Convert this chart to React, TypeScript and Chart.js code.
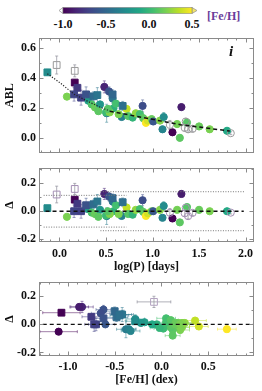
import React, { useEffect, useRef } from "react";
import { Chart, registerables } from "chart.js";
Chart.register(...registerables);

// ---------------- data ----------------
const logP = [
  -0.13, -0.03, 0.08, 0.164, 0.164, 0.193, 0.157, 0.232, 0.286, 0.364,
  0.407, 0.31, 0.346, 0.382, 0.436, 0.418, 0.482, 0.507, 0.532, 0.571,
  0.571, 0.58, 0.607, 0.5, 0.54, 0.52, 0.679, 0.668, 0.721, 0.636,
  0.739, 0.786, 0.82, 0.893, 0.864, 0.9, 0.929, 0.95, 0.99, 1.007,
  1.08, 1.12, 1.107, 1.186, 1.214, 1.31, 1.293, 1.264, 1.37, 1.357,
  1.346, 1.382, 1.43, 1.5, 1.614, 1.8, 1.84,
];
const abl = [
  0.437, 0.486, 0.275, 0.447, 0.369, 0.334, 0.29, 0.268, 0.29, 0.277,
  0.285, 0.248, 0.223, 0.203, 0.223, 0.178, 0.34, 0.164, 0.31, 0.29,
  0.262, 0.197, 0.228, 0.17, 0.17, 0.193, 0.213, 0.139, 0.193, 0.158,
  0.145, 0.135, 0.164, 0.213, 0.158, 0.131, 0.1, 0.115, 0.125, 0.109,
  0.115, 0.139, 0.057, 0.086, 0.037, 0.205, 0.0, 0.092, 0.102, 0.109,
  0.066, 0.057, 0.06, 0.076, 0.057, 0.047, 0.031,
];
const ablErr = [
  0.02, 0.06, 0.02, 0.04, 0.02, 0.02, 0.045, 0.05, 0.05, 0.03,
  0.05, 0.02, 0.02, 0.02, 0.02, 0.02, 0.04, 0.06, 0.03, 0.03,
  0.03, 0.02, 0.02, 0.02, 0.02, 0.02, 0.03, 0.02, 0.02, 0.02,
  0.02, 0.02, 0.02, 0.04, 0.02, 0.02, 0.02, 0.02, 0.02, 0.02,
  0.02, 0.03, 0.02, 0.03, 0.02, 0.02, 0.02, 0.02, 0.02, 0.02,
  0.02, 0.02, 0.02, 0.02, 0.02, 0.02, 0.01,
];
const delta = [
  0.022, 0.12, -0.04, 0.16, 0.083, 0.054, 0.0, 0.0, 0.043, 0.05,
  0.07, 0.015, -0.01, -0.02, 0.01, -0.04, 0.124, -0.035, 0.105, 0.094,
  0.07, 0.0, 0.043, -0.03, -0.02, 0.0, 0.065, -0.034, 0.027, -0.02,
  -0.02, -0.025, 0.01, 0.079, 0.015, -0.005, -0.034, -0.015, 0.0, 0.0,
  0.01, 0.038, -0.047, -0.011, -0.052, 0.124, -0.08, 0.01, 0.03, 0.025,
  -0.015, -0.035, -0.012, 0.01, 0.0, 0.0, -0.01,
];
const feh: (number | null)[] = [
  -0.28, null, 0.2, -0.08, -1.07, -0.75, -0.7, -0.72, -0.62, -0.48,
  -0.42, -0.18, 0.08, 0.15, -0.22, 0.12, -0.85, -0.38, -0.62, -0.5,
  -0.42, -0.05, 0.05, 0.02, 0.22, 0.1, -0.45, -0.35, 0.36, 0.2,
  0.1, -0.02, 0.25, -0.65, 0.05, 0.12, 0.7, 0.4, 0.15, -0.6,
  0.22, -0.28, -0.33, null, -1.1, -0.88, 0.12, 0.18, 0.1, null,
  null, null, null, 0.15, 0.2, -0.1, null,
];
const fehErr = [
  0.1, 0, 0.1, 0.18, 0.2, 0.1, 0.08, 0.1, 0.1, 0.12,
  0.1, 0.1, 0.08, 0.08, 0.1, 0.08, 0.12, 0.1, 0.08, 0.1,
  0.12, 0.08, 0.1, 0.1, 0.08, 0.08, 0.1, 0.08, 0.12, 0.1,
  0.08, 0.1, 0.1, 0.1, 0.08, 0.1, 0.1, 0.1, 0.08, 0.1,
  0.1, 0.1, 0.1, 0, 0.2, 0.1, 0.08, 0.1, 0.08, 0,
  0, 0, 0, 0.1, 0.1, 0.1, 0,
];
// c = filled circle, s = filled square, oc = open circle, os = open square
const kind = [
  "s", "os", "c", "os", "s", "s", "s", "s", "s", "s",
  "s", "c", "c", "c", "c", "c", "c", "c", "c", "s",
  "c", "c", "c", "c", "c", "c", "s", "c", "c", "c",
  "c", "c", "c", "c", "c", "c", "c", "c", "c", "c",
  "c", "c", "c", "oc", "c", "c", "c", "c", "c", "oc",
  "oc", "oc", "oc", "c", "c", "c", "oc",
];

// fit lines (top panel)
const fitShortX = [-0.13, 0.0, 0.16, 0.3, 0.44, 0.54];
const fitShortY = [0.428, 0.37, 0.29, 0.245, 0.203, 0.18];
const fitLongX = [0.54, 0.94, 1.3, 1.83];
const fitLongY = [0.178, 0.13, 0.088, 0.045];
// residual reference lines
const zeroLineP = [-0.15, 1.98];
const scatterShortX = [-0.17, 0.72];
const scatterShortY = 0.114;
const scatterLongX = [0.44, 1.99];
const scatterLongY = 0.14;
const zeroLineFe = [-1.27, 0.99];

// ticks
const logPTicks = [0.0, 0.5, 1.0, 1.5, 2.0];
const ablTicks = [0.0, 0.2, 0.4, 0.6];
const deltaTicks = [-0.2, 0.0, 0.2];
const fehTicks = [-1.0, -0.5, 0.0, 0.5];
const cbarTicks = [-1.0, -0.5, 0.0, 0.5];

// ---------------- styling helpers ----------------
const VIRIDIS = ["#440154", "#482475", "#414487", "#355f8d", "#2a788e", "#21918c", "#22a884", "#44bf70", "#7ad151", "#bddf26", "#fde725"];
const FONT = "'Liberation Serif', 'DejaVu Serif', serif";

function hexRgb(h: string) {
  return [parseInt(h.slice(1, 3), 16), parseInt(h.slice(3, 5), 16), parseInt(h.slice(5, 7), 16)];
}
function viridisRgb(v: number) {
  const t = Math.max(0, Math.min(1, (v + 1) / 1.5));
  const s = t * 10;
  const i = Math.min(9, Math.floor(s));
  const f = s - i;
  const a = hexRgb(VIRIDIS[i]);
  const b = hexRgb(VIRIDIS[i + 1]);
  return a.map((c, k) => Math.round(c + (b[k] - c) * f));
}
function col(v: number, alpha = 1) {
  const [r, g, b] = viridisRgb(v);
  return `rgba(${r},${g},${b},${alpha})`;
}

const errorBarPlugin = {
  id: "errbars",
  beforeDatasetsDraw(chart: any) {
    const { ctx, chartArea: a } = chart;
    const xs = chart.scales.x;
    const ys = chart.scales.y;
    ctx.save();
    ctx.beginPath();
    ctx.rect(a.left, a.top, a.right - a.left, a.bottom - a.top);
    ctx.clip();
    ctx.lineWidth = 1;
    chart.data.datasets.forEach((ds: any) => {
      if (!ds.errY) return;
      ds.data.forEach((p: any, i: number) => {
        const px = xs.getPixelForValue(p.x);
        const py = ys.getPixelForValue(p.y);
        ctx.strokeStyle = ds.errColor[i];
        ctx.beginPath();
        const ey = ds.errY[i];
        if (ey > 0) {
          const y1 = ys.getPixelForValue(p.y - ey);
          const y2 = ys.getPixelForValue(p.y + ey);
          ctx.moveTo(px, y1); ctx.lineTo(px, y2);
          ctx.moveTo(px - 1.5, y1); ctx.lineTo(px + 1.5, y1);
          ctx.moveTo(px - 1.5, y2); ctx.lineTo(px + 1.5, y2);
        }
        if (ds.errX) {
          const ex = ds.errX[i];
          if (ex > 0) {
            const x1 = xs.getPixelForValue(p.x - ex);
            const x2 = xs.getPixelForValue(p.x + ex);
            ctx.moveTo(x1, py); ctx.lineTo(x2, py);
            ctx.moveTo(x1, py - 1.5); ctx.lineTo(x1, py + 1.5);
            ctx.moveTo(x2, py - 1.5); ctx.lineTo(x2, py + 1.5);
          }
        }
        ctx.stroke();
      });
    });
    ctx.restore();
  },
};

const framePlugin = {
  id: "frame",
  afterDatasetsDraw(chart: any, _args: any, opts: any) {
    const { ctx, chartArea: a } = chart;
    const xs = chart.scales.x;
    const ys = chart.scales.y;
    const L = Math.round(a.left) + 0.5, R = Math.round(a.right) - 0.5;
    const T = Math.round(a.top) + 0.5, B = Math.round(a.bottom) - 0.5;
    ctx.save();
    ctx.strokeStyle = "#8a8a8a";
    ctx.lineWidth = 1;
    ctx.strokeRect(L, T, R - L, B - T);
    const drawX = (v: number, len: number) => {
      const p = Math.round(xs.getPixelForValue(v)) + 0.5;
      if (p < L || p > R) return;
      ctx.moveTo(p, B); ctx.lineTo(p, B - len);
      ctx.moveTo(p, T); ctx.lineTo(p, T + len);
    };
    const drawY = (v: number, len: number) => {
      const p = Math.round(ys.getPixelForValue(v)) + 0.5;
      if (p < T || p > B) return;
      ctx.moveTo(L, p); ctx.lineTo(L + len, p);
      ctx.moveTo(R, p); ctx.lineTo(R - len, p);
    };
    ctx.beginPath();
    const minorX = opts.xMinor, minorY = opts.yMinor;
    for (let v = Math.ceil(xs.min / minorX) * minorX; v <= xs.max + 1e-9; v += minorX) drawX(v, 2);
    for (let v = Math.ceil(ys.min / minorY) * minorY; v <= ys.max + 1e-9; v += minorY) drawY(v, 2);
    opts.xMajor.forEach((v: number) => drawX(v, 4));
    opts.yMajor.forEach((v: number) => drawY(v, 4));
    ctx.stroke();
    ctx.restore();
  },
};

function pointSets(xv: (number | null)[], yv: number[], yerr: number[], xerr: number[] | null, openColor: string) {
  const kinds = ["oc", "os", "s", "c"];
  return kinds.map((k) => {
    const idx = kind.map((kk, i) => i).filter((i) => kind[i] === k && xv[i] !== null);
    const filled = k === "c" || k === "s";
    const cols = idx.map((i) => (filled ? col(feh[i] as number) : openColor));
    const ecols = idx.map((i) => (filled ? col(feh[i] as number, 0.5) : "rgba(150,150,160,0.75)"));
    const sq = k === "s" || k === "os";
    return {
      data: idx.map((i) => ({ x: xv[i] as number, y: yv[i] })),
      pointStyle: sq ? "rect" : "circle",
      pointRadius: sq ? 4.8 : 3.6,
      pointBackgroundColor: filled ? cols : "rgba(255,255,255,0)",
      pointBorderColor: cols,
      pointBorderWidth: 1,
      showLine: false,
      errY: idx.map((i) => yerr[i]),
      errX: xerr ? idx.map((i) => xerr[i]) : null,
      errColor: ecols,
      order: 2,
    };
  });
}

function lineSet(xsArr: number[], ysArr: number[], dash: number[], color: string, width: number) {
  return {
    data: xsArr.map((x, i) => ({ x, y: ysArr[i] })),
    showLine: true,
    pointRadius: 0,
    borderColor: color,
    borderWidth: width,
    borderDash: dash,
    fill: false,
    order: 0,
  };
}

const tickFont = { family: FONT, size: 12, weight: "bold" as const };
const titleFont = { family: FONT, size: 12, weight: "bold" as const };

function makeOptions(c: any) {
  return {
    animation: false,
    responsive: false,
    devicePixelRatio: 1,
    events: [],
    layout: { padding: { top: c.padTop, right: 8, left: 0, bottom: 0 } },
    plugins: {
      legend: { display: false },
      tooltip: { enabled: false },
      frame: { xMajor: c.xMajor, yMajor: c.yMajor, xMinor: c.xMinor, yMinor: 0.1 },
    },
    scales: {
      x: {
        type: "linear",
        min: c.xMin,
        max: c.xMax,
        afterFit: (s: any) => { s.height = c.xh; },
        afterBuildTicks: (s: any) => { s.ticks = c.xMajor.map((v: number) => ({ value: v })); },
        grid: { display: false, drawTicks: false },
        border: { display: false },
        ticks: {
          display: c.showX,
          padding: c.xPad,
          font: tickFont,
          color: "#111",
          autoSkip: false,
          maxRotation: 0,
          callback: (v: any) => Number(v).toFixed(1),
        },
        title: {
          display: !!c.xTitle,
          text: c.xTitle || "",
          font: titleFont,
          color: "#111",
          padding: { top: 0, bottom: c.xTitlePad },
        },
      },
      y: {
        type: "linear",
        min: c.yMin,
        max: c.yMax,
        afterFit: (s: any) => { s.width = 39; },
        afterBuildTicks: (s: any) => { s.ticks = c.yMajor.map((v: number) => ({ value: v })); },
        grid: { display: false, drawTicks: false },
        border: { display: false },
        ticks: {
          padding: 3,
          font: tickFont,
          color: "#111",
          autoSkip: false,
          callback: (v: any) => Number(v).toFixed(1),
        },
        title: {
          display: true,
          text: c.yTitle,
          font: titleFont,
          color: "#111",
          padding: { top: 3, bottom: 0 },
        },
      },
    },
  };
}

function useChart(ref: React.RefObject<HTMLCanvasElement>, build: () => any) {
  useEffect(() => {
    if (!ref.current) return;
    const chart = new Chart(ref.current, build());
    return () => chart.destroy();
  }, []);
}

export default function App() {
  const topRef = useRef<HTMLCanvasElement>(null);
  const midRef = useRef<HTMLCanvasElement>(null);
  const botRef = useRef<HTMLCanvasElement>(null);

  useChart(topRef, () => ({
    type: "scatter",
    data: {
      datasets: [
        ...pointSets(logP, abl, ablErr, null, "#9a9a9a"),
        lineSet(fitShortX, fitShortY, [1.2, 1.6], "#222", 1.2),
        lineSet(fitLongX, fitLongY, [4, 3], "#111", 1.5),
      ],
    },
    options: makeOptions({
      padTop: 5, xh: 0, showX: false, xPad: 0, xTitlePad: 0,
      xMin: -0.22, xMax: 2.09, yMin: -0.1, yMax: 0.665,
      xMajor: logPTicks, yMajor: ablTicks, xMinor: 0.1, yTitle: "ABL",
    }),
    plugins: [errorBarPlugin, framePlugin],
  }));

  useChart(midRef, () => ({
    type: "scatter",
    data: {
      datasets: [
        ...pointSets(logP, delta, ablErr, null, "#a48fb4"),
        lineSet(zeroLineP, [0, 0], [4, 3], "#111", 1.3),
        lineSet(scatterShortX, [scatterShortY, scatterShortY], [1, 1.5], "#777", 1),
        lineSet(scatterShortX, [-scatterShortY, -scatterShortY], [1, 1.5], "#777", 1),
        lineSet(scatterLongX, [scatterLongY, scatterLongY], [1, 1.5], "#777", 1),
        lineSet(scatterLongX, [-scatterLongY, -scatterLongY], [1, 1.5], "#777", 1),
      ],
    },
    options: makeOptions({
      padTop: 5, xh: 33, showX: true, xPad: 4.8, xTitlePad: 1, xTitle: "log(P) [days]",
      xMin: -0.22, xMax: 2.09, yMin: -0.221, yMax: 0.309,
      xMajor: logPTicks, yMajor: deltaTicks, xMinor: 0.1, yTitle: "Δ",
    }),
    plugins: [errorBarPlugin, framePlugin],
  }));

  useChart(botRef, () => ({
    type: "scatter",
    data: {
      datasets: [
        ...pointSets(feh, delta, ablErr, fehErr, "#b3a3c0"),
        lineSet(zeroLineFe, [0, 0], [4, 3], "#111", 1.3),
      ],
    },
    options: makeOptions({
      padTop: 6, xh: 35, showX: true, xPad: 3.5, xTitlePad: 3.5, xTitle: "[Fe/H] (dex)",
      xMin: -1.31, xMax: 0.99, yMin: -0.225, yMax: 0.3,
      xMajor: fehTicks, yMajor: deltaTicks, xMinor: 0.1, yTitle: "Δ",
    }),
    plugins: [errorBarPlugin, framePlugin],
  }));

  const cbX0 = 63, cbW = 129;
  const cbPos = (v: number) => cbX0 + ((v + 1) / 1.5) * cbW;

  return (
    <div style={{ position: "absolute", left: 0, top: 0, width: 262, height: 391, background: "#fff", overflow: "hidden" }}>
      <svg width={262} height={30} style={{ position: "absolute", left: 0, top: 0 }}>
        <defs>
          <linearGradient id="vir" x1="0" x2="1" y1="0" y2="0">
            {VIRIDIS.map((c, i) => (
              <stop key={i} offset={`${i * 10}%`} stopColor={c} />
            ))}
          </linearGradient>
        </defs>
        <polygon points={`${cbX0},7.5 59,10.5 ${cbX0},13.5`} fill="#fff" stroke="#999" strokeWidth={0.8} />
        <polygon points={`${cbX0 + cbW},7.5 ${cbX0 + cbW + 5},10.5 ${cbX0 + cbW},13.5`} fill="#f2e66a" stroke="#999" strokeWidth={0.8} />
        <rect x={cbX0} y={7.5} width={cbW} height={6} fill="url(#vir)" stroke="#777" strokeWidth={0.5} />
        {cbarTicks.map((v, i) => (
          <text key={i} x={cbPos(v)} y={28} textAnchor="middle" fontFamily={FONT} fontWeight="bold" fontSize={12} fill="#111">
            {v.toFixed(1)}
          </text>
        ))}
        <text x={207} y={20} fontFamily={FONT} fontWeight="bold" fontSize={12} fill="#6a3d9a">[Fe/H]</text>
      </svg>
      <canvas ref={topRef} width={262} height={135} style={{ position: "absolute", left: 0, top: 28 }} />
      <canvas ref={midRef} width={262} height={117} style={{ position: "absolute", left: 0, top: 158 }} />
      <canvas ref={botRef} width={262} height={119} style={{ position: "absolute", left: 0, top: 272 }} />
      <span style={{ position: "absolute", left: 229, top: 43, fontFamily: FONT, fontStyle: "italic", fontWeight: "bold", fontSize: 15, color: "#111" }}>i</span>
    </div>
  );
}
